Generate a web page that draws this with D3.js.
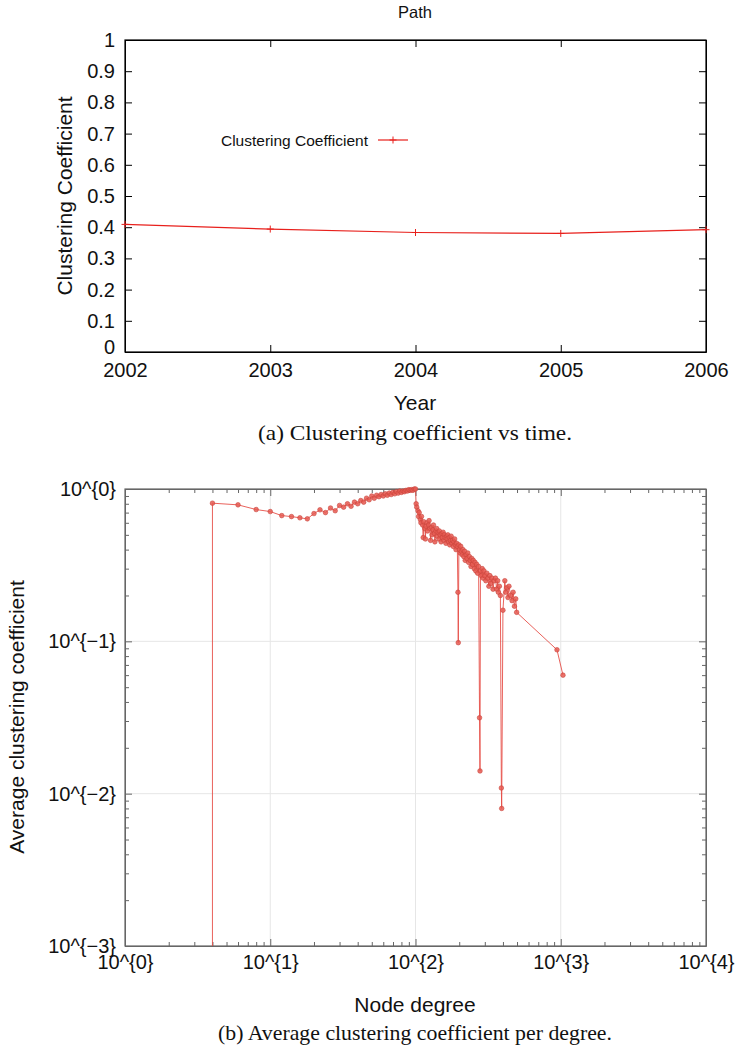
<!DOCTYPE html>
<html>
<head>
<meta charset="utf-8">
<script src="https://cdn.jsdelivr.net/npm/d3@7"></script>
<style>
  html, body { margin: 0; padding: 0; background: #fff; }
  svg { display: block; }
  .tick text { font-family: "Liberation Sans", Arial, sans-serif; }
</style>
</head>
<body>
<svg id="fig" width="739" height="1050"></svg>
<script>
// ---- (a) clustering coefficient per year ----
const years = [2002, 2003, 2004, 2005, 2006];
const clustering = [0.409, 0.394, 0.383, 0.380, 0.392];
const yTicksA = [0, 0.1, 0.2, 0.3, 0.4, 0.5, 0.6, 0.7, 0.8, 0.9, 1];

// ---- (b) average clustering coefficient per node degree ----
const nodeDegree = [
  4, 4, 6, 8, 10, 12, 14, 16, 18, 20, 22, 24, 26, 28, 30, 32, 34, 36, 38, 40,
  42, 44, 46, 48, 50, 52, 54, 56, 58, 60, 62, 64, 66, 68, 70, 72, 74, 76, 78, 80,
  82, 84, 86, 88, 90, 92, 94, 96, 98, 100,
  101, 102, 104, 105, 106, 108, 109, 110, 112, 113, 114, 116, 117, 118, 120, 121,
  123, 124, 126, 127, 129, 130, 132, 133, 135, 136, 138, 140, 141, 143, 145, 146,
  148, 150, 152, 153, 155, 157, 158, 160, 162, 164, 165, 167, 169, 171, 172, 174,
  176, 178, 180, 182, 184, 186, 188, 190, 192, 194, 196, 197, 199, 201, 203, 205,
  207, 210, 212, 215, 218, 220, 223, 226, 229, 232, 235, 238, 241, 244, 247, 250,
  254, 257, 260, 264, 268, 272, 276, 278, 280, 284, 288, 292, 296, 300, 305, 310,
  315, 320, 325, 330, 336, 342, 348, 355, 362, 368, 372, 378, 384, 390, 392, 400,
  412, 418, 425, 433, 440, 452, 462, 470, 480, 490, 497, 942, 1036
];
const avgClustering = [
  0, 0.807, 0.787, 0.733, 0.711, 0.669, 0.659, 0.647, 0.637, 0.69, 0.73, 0.70, 0.75, 0.72, 0.78, 0.76, 0.80, 0.77, 0.82, 0.80,
  0.84, 0.82, 0.87, 0.85, 0.90, 0.87, 0.91, 0.89, 0.92, 0.90, 0.93, 0.91, 0.94, 0.92, 0.95, 0.93, 0.96, 0.94, 0.97, 0.95,
  0.97, 0.96, 0.98, 0.97, 0.99, 0.98, 0.99, 0.98, 1.0, 1.0,
  0.80, 0.76, 0.72, 0.66, 0.70, 0.63, 0.60, 0.66, 0.58, 0.48, 0.61, 0.55, 0.47, 0.57, 0.60, 0.53,
  0.58, 0.62, 0.55, 0.46, 0.56, 0.50, 0.54, 0.58, 0.51, 0.45, 0.53, 0.55, 0.49, 0.52, 0.47, 0.53,
  0.50, 0.45, 0.51, 0.48, 0.52, 0.46, 0.50, 0.48, 0.44, 0.49, 0.47, 0.50, 0.45, 0.48, 0.43, 0.46,
  0.49, 0.44, 0.46, 0.42, 0.45, 0.47, 0.43, 0.40, 0.44, 0.42, 0.21, 0.098, 0.43, 0.40, 0.38, 0.42,
  0.39, 0.37, 0.40, 0.36, 0.39, 0.34, 0.37, 0.35, 0.38, 0.33, 0.36, 0.34, 0.31, 0.35, 0.32, 0.34,
  0.30, 0.33, 0.29, 0.32, 0.28, 0.31, 0.0315, 0.0141, 0.29, 0.27, 0.30, 0.26, 0.29, 0.27, 0.25, 0.28,
  0.26, 0.23, 0.27, 0.24, 0.26, 0.22, 0.25, 0.26, 0.22, 0.25, 0.21, 0.23, 0.20, 0.0109, 0.0080, 0.16,
  0.25, 0.21, 0.225, 0.194, 0.23, 0.20, 0.185, 0.21, 0.17, 0.19, 0.155, 0.088, 0.060
];
const xTicksB = [1, 10, 100, 1000, 10000];
const xTickLabelsB = ["10^{0}", "10^{1}", "10^{2}", "10^{3}", "10^{4}"];
const yTicksB = [0.001, 0.01, 0.1, 1];
const yTickLabelsB = ["10^{\u22123}", "10^{\u22122}", "10^{\u22121}", "10^{0}"];

const svg = d3.select("#fig");
const sans = "'Liberation Sans', Arial, Helvetica, sans-serif";
const serif = "'Liberation Serif', 'Times New Roman', serif";

// ================= panel (a) =================
const L = 125, R = 706;
const xA = d3.scaleLinear().domain([2002, 2006]).range([L, R]);
const yA = d3.scaleLinear().domain([0, 1]).range([352, 40]);
const gA = svg.append("g");

function styleAxis(g, color, fontSize) {
  g.select(".domain").attr("stroke", color);
  g.selectAll(".tick line").attr("stroke", color);
  g.selectAll(".tick text").attr("fill", "#111").style("font-size", fontSize + "px");
}

gA.append("rect").attr("x", L).attr("y", yA(1)).attr("width", R - L).attr("height", yA(0) - yA(1))
  .attr("fill", "none").attr("stroke", "#000").attr("stroke-width", 1.2);

gA.append("g").attr("transform", `translate(0,${yA(0)})`)
  .call(d3.axisBottom(xA).tickValues(years).tickFormat(d3.format("d")).tickSizeInner(-7).tickSizeOuter(0).tickPadding(11))
  .call(g => styleAxis(g, "#000", 20));
gA.append("g").attr("transform", `translate(0,${yA(1)})`)
  .call(d3.axisTop(xA).tickValues(years).tickFormat("").tickSizeInner(-7).tickSizeOuter(0))
  .call(g => styleAxis(g, "#000", 20));
gA.append("g").attr("transform", `translate(${L},0)`)
  .call(d3.axisLeft(yA).tickValues(yTicksA).tickFormat(d => d3.format("")(d)).tickSizeInner(-7).tickSizeOuter(0).tickPadding(10))
  .call(g => styleAxis(g, "#000", 20))
  .call(g => g.selectAll(".tick text").filter(d => d === 0).attr("dy", "0.05em"));
gA.append("g").attr("transform", `translate(${R},0)`)
  .call(d3.axisRight(yA).tickValues(yTicksA).tickFormat("").tickSizeInner(-7).tickSizeOuter(0))
  .call(g => styleAxis(g, "#000", 20));

gA.append("text").attr("x", 415).attr("y", 18).attr("text-anchor", "middle")
  .attr("font-family", sans).attr("font-size", 16.5).attr("fill", "#111").text("Path");
gA.append("text").attr("x", 415).attr("y", 410).attr("text-anchor", "middle")
  .attr("font-family", sans).attr("font-size", 21).attr("fill", "#111").text("Year");
gA.append("text").attr("transform", "translate(72,196) rotate(-90)").attr("text-anchor", "middle")
  .attr("font-family", sans).attr("font-size", 21).attr("fill", "#111").text("Clustering Coefficient");
gA.append("text").attr("x", 415).attr("y", 440).attr("text-anchor", "middle")
  .attr("font-family", serif).attr("font-size", 21).attr("fill", "#111")
  .attr("textLength", 314).attr("lengthAdjust", "spacingAndGlyphs")
  .text("(a) Clustering coefficient vs time.");

const redA = "#e8201c";
const ptsA = years.map((yr, i) => [yr, clustering[i]]);
gA.append("path").datum(ptsA)
  .attr("d", d3.line().x(d => xA(d[0])).y(d => yA(d[1])))
  .attr("fill", "none").attr("stroke", redA).attr("stroke-width", 1.2);
const plus = (sel, cx, cy, s) => sel.append("path")
  .attr("d", `M${cx - s},${cy}H${cx + s}M${cx},${cy - s}V${cy + s}`)
  .attr("stroke", redA).attr("stroke-width", 1);
ptsA.forEach(d => plus(gA, xA(d[0]), yA(d[1]), 3.5));

// legend
gA.append("text").attr("x", 368).attr("y", 145.5).attr("text-anchor", "end")
  .attr("font-family", sans).attr("font-size", 15.5).attr("fill", "#111").text("Clustering Coefficient");
gA.append("line").attr("x1", 378).attr("x2", 408).attr("y1", 140).attr("y2", 140)
  .attr("stroke", redA).attr("stroke-width", 1.2);
plus(gA, 393, 140, 3.5);

// ================= panel (b) =================
const xB = d3.scaleLog().domain([1, 1e4]).range([L, R]);
const yB = d3.scaleLog().domain([1e-3, 1]).range([946, 489]);
const gB = svg.append("g");
const axisColor = "#666";

const minorX = [], minorY = [];
for (let e = 0; e < 4; e++) for (let m = 2; m <= 9; m++) minorX.push(m * Math.pow(10, e));
for (let e = -3; e < 0; e++) for (let m = 2; m <= 9; m++) minorY.push(m * Math.pow(10, e));

// decade grid
gB.append("g").selectAll("line").data(xTicksB.slice(1, -1)).join("line")
  .attr("x1", d => xB(d)).attr("x2", d => xB(d)).attr("y1", yB(1e-3)).attr("y2", yB(1))
  .attr("stroke", "#e6e6e6").attr("stroke-width", 1);
gB.append("g").selectAll("line").data(yTicksB.slice(1, -1)).join("line")
  .attr("y1", d => yB(d)).attr("y2", d => yB(d)).attr("x1", L).attr("x2", R)
  .attr("stroke", "#e6e6e6").attr("stroke-width", 1);

gB.append("rect").attr("x", L).attr("y", yB(1)).attr("width", R - L).attr("height", yB(1e-3) - yB(1))
  .attr("fill", "none").attr("stroke", axisColor).attr("stroke-width", 1.2);

// major ticks with labels
gB.append("g").attr("transform", `translate(0,${yB(1e-3)})`)
  .call(d3.axisBottom(xB).tickValues(xTicksB).tickFormat((d, i) => xTickLabelsB[i]).tickSizeInner(-7).tickSizeOuter(0).tickPadding(9))
  .call(g => styleAxis(g, axisColor, 20));
gB.append("g").attr("transform", `translate(${L},0)`)
  .call(d3.axisLeft(yB).tickValues(yTicksB).tickFormat((d, i) => yTickLabelsB[i]).tickSizeInner(-7).tickSizeOuter(0).tickPadding(9))
  .call(g => styleAxis(g, axisColor, 20));
gB.append("g").attr("transform", `translate(0,${yB(1)})`)
  .call(d3.axisTop(xB).tickValues(xTicksB).tickFormat("").tickSizeInner(-7).tickSizeOuter(0))
  .call(g => styleAxis(g, axisColor, 20));
gB.append("g").attr("transform", `translate(${R},0)`)
  .call(d3.axisRight(yB).tickValues(yTicksB).tickFormat("").tickSizeInner(-7).tickSizeOuter(0))
  .call(g => styleAxis(g, axisColor, 20));
// minor ticks on all four sides
[[d3.axisBottom(xB), `translate(0,${yB(1e-3)})`, minorX],
 [d3.axisTop(xB), `translate(0,${yB(1)})`, minorX],
 [d3.axisLeft(yB), `translate(${L},0)`, minorY],
 [d3.axisRight(yB), `translate(${R},0)`, minorY]].forEach(([ax, tr, vals]) => {
  gB.append("g").attr("transform", tr)
    .call(ax.tickValues(vals).tickFormat("").tickSizeInner(-4).tickSizeOuter(0))
    .call(g => { g.select(".domain").remove(); g.selectAll(".tick line").attr("stroke", axisColor); });
});

gB.append("text").attr("x", 415).attr("y", 1012).attr("text-anchor", "middle")
  .attr("font-family", sans).attr("font-size", 21).attr("fill", "#111").text("Node degree");
gB.append("text").attr("transform", "translate(24,717) rotate(-90)").attr("text-anchor", "middle")
  .attr("font-family", sans).attr("font-size", 21).attr("fill", "#111").text("Average clustering coefficient");
gB.append("text").attr("x", 415).attr("y", 1040).attr("text-anchor", "middle")
  .attr("font-family", serif).attr("font-size", 21).attr("fill", "#111")
  .attr("textLength", 394).attr("lengthAdjust", "spacingAndGlyphs")
  .text("(b) Average clustering coefficient per degree.");

// zero values fall to the bottom edge of the log axis
const yVal = v => v > 0 ? yB(v) : yB(1e-3);
const ptsB = nodeDegree.map((d, i) => [d, avgClustering[i]]);
const redB = "#e5473f";
gB.append("path").datum(ptsB)
  .attr("d", d3.line().x(d => xB(d[0])).y(d => yVal(d[1])))
  .attr("fill", "none").attr("stroke", redB).attr("stroke-width", 1).attr("stroke-opacity", 0.85);
gB.append("g").selectAll("circle").data(ptsB.filter(d => d[1] > 0)).join("circle")
  .attr("cx", d => xB(d[0])).attr("cy", d => yB(d[1])).attr("r", 2.3)
  .attr("fill", "#e65a52").attr("stroke", "#c9443c").attr("stroke-width", 0.6).attr("fill-opacity", 0.85);
</script>
</body>
</html>
